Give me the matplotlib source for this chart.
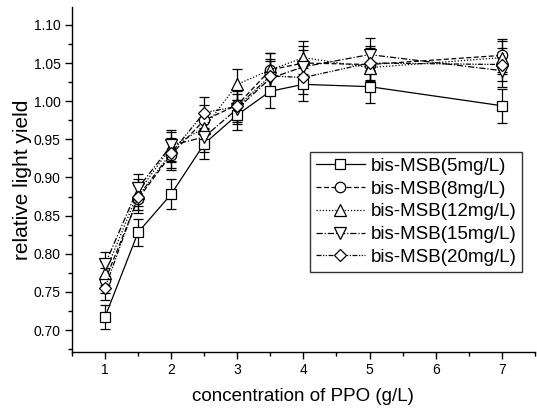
import matplotlib
matplotlib.use("Agg")
import matplotlib.pyplot as plt
from matplotlib.ticker import MultipleLocator, FormatStrFormatter

plt.rcParams['font.family'] = ['Liberation Sans', 'DejaVu Sans']

ppo = [1, 1.5, 2, 2.5, 3, 3.5, 4, 5, 7]
labels = ["bis-MSB(5mg/L)", "bis-MSB(8mg/L)", "bis-MSB(12mg/L)",
          "bis-MSB(15mg/L)", "bis-MSB(20mg/L)"]
y5 = [0.717, 0.828, 0.878, 0.944, 0.982, 1.013, 1.022, 1.019, 0.994]
y8 = [0.765, 0.872, 0.930, 0.975, 0.995, 1.041, 1.050, 1.048, 1.060]
y12 = [0.775, 0.880, 0.940, 0.965, 1.022, 1.041, 1.057, 1.044, 1.057]
y15 = [0.786, 0.886, 0.942, 0.953, 0.990, 1.030, 1.045, 1.061, 1.040]
y20 = [0.755, 0.875, 0.932, 0.985, 0.993, 1.033, 1.031, 1.050, 1.048]
err = [0.016, 0.018, 0.02, 0.02, 0.02, 0.022, 0.022, 0.022, 0.022]

series = [y5, y8, y12, y15, y20]
markers = ['s', 'o', '^', 'v', 'D']
msizes = [7, 7.5, 8, 8, 6.5]
styles = ['-', (0, (4, 2)), (0, (1, 1.5)), (0, (5, 1.5, 1, 1.5)), (0, (4, 1.2, 1, 1.2, 1, 1.2))]

fig = plt.figure(figsize=(5.37, 4.09), dpi=100)
ax = fig.add_axes([0.134, 0.139, 0.862, 0.845])

for ys, m, ms, ls, lab in zip(series, markers, msizes, styles, labels):
    ax.errorbar(ppo, ys, yerr=err, fmt='none', ecolor='black', elinewidth=0.9,
                capsize=3.8, capthick=0.9, zorder=2)
    ax.plot(ppo, ys, linestyle=ls, color='black', linewidth=0.9,
            marker=m, markersize=ms,
            markerfacecolor='white', markeredgecolor='black', markeredgewidth=0.9,
            label=lab, zorder=3)

ax.set_xlim(0.5, 7.5)
ax.set_ylim(0.671, 1.124)
ax.xaxis.set_major_locator(MultipleLocator(1))
ax.xaxis.set_minor_locator(MultipleLocator(0.5))
ax.yaxis.set_major_locator(MultipleLocator(0.05))
ax.yaxis.set_minor_locator(MultipleLocator(0.025))
ax.yaxis.set_major_formatter(FormatStrFormatter('%.2f'))
ax.set_xticks([1, 2, 3, 4, 5, 6, 7])

for s in ['top', 'right']:
    ax.spines[s].set_visible(False)
for s in ['left', 'bottom']:
    ax.spines[s].set_linewidth(1.0)

ax.tick_params(which='major', direction='out', length=5, width=1, labelsize=10, pad=3)
ax.tick_params(which='minor', direction='out', length=3, width=1)

ax.set_xlabel("concentration of PPO (g/L)", fontsize=13.5, labelpad=8)
ax.set_ylabel("relative light yield", fontsize=15, labelpad=1.5)

leg = ax.legend(loc='upper right', bbox_to_anchor=(0.972, 0.628),
                bbox_transform=fig.transFigure, fontsize=13.5, frameon=True,
                fancybox=False, edgecolor='black', handlelength=2.6,
                handletextpad=0.3, borderpad=0.3, labelspacing=0.3,
                borderaxespad=0)
leg.get_frame().set_linewidth(1.0)

fig.savefig("out.png", dpi=100)
